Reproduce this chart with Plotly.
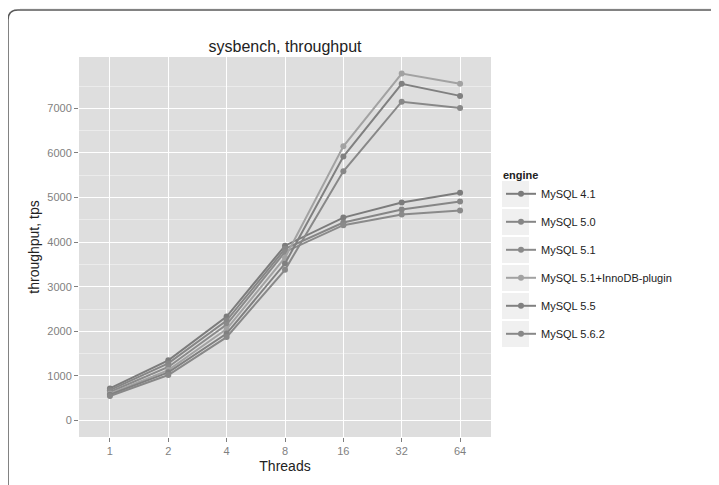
import plotly.graph_objects as go

threads = ["1", "2", "4", "8", "16", "32", "64"]
engines = ["MySQL 4.1", "MySQL 5.0", "MySQL 5.1", "MySQL 5.1+InnoDB-plugin", "MySQL 5.5", "MySQL 5.6.2"]
mysql_41 = [720, 1350, 2330, 3920, 4550, 4890, 5110]
mysql_50 = [680, 1280, 2240, 3850, 4440, 4730, 4910]
mysql_51 = [640, 1200, 2150, 3780, 4380, 4620, 4710]
mysql_51_plugin = [600, 1130, 2050, 3650, 6150, 7780, 7550]
mysql_55 = [580, 1080, 1950, 3520, 5920, 7550, 7280]
mysql_562 = [550, 1020, 1870, 3380, 5590, 7150, 7010]
series = [mysql_41, mysql_50, mysql_51, mysql_51_plugin, mysql_55, mysql_562]
colors = ["#7c7c7c", "#868686", "#8a8a8a", "#a2a2a2", "#808080", "#888888"]

fig = go.Figure()
for i, (name, vals) in enumerate(zip(engines, series)):
    fig.add_trace(go.Scatter(
        x=threads, y=vals, name=name, mode="lines+markers",
        legendgroup=name,
        line=dict(color=colors[i], width=2),
        marker=dict(color=colors[i], size=6, symbol="circle"),
    ))

OFF = 8  # page body margin
W, H = 719, 485
SL, ST, SR, SB = 79, 57, 491, 437  # plot area in screen pixels
pw, ph = SR - SL, SB - ST
L, T = SL - OFF, ST - OFF
R, B = W - L - pw, H - T - ph

def px(x):
    return (x - SL) / pw

def py(y):
    return (SB - y) / ph

shapes = []
# faint shadow line above frame
shapes.append(dict(type="line", xref="paper", yref="paper",
                   x0=px(20), x1=px(760), y0=py(8), y1=py(8),
                   line=dict(color="#e6e6e6", width=1)))
# outer rounded frame (top-left corner visible)
x0, y0 = px(8), py(10)
rx, ry = 10 / pw, 10 / ph
xr, yb = px(760), py(520)
shapes.append(dict(type="path", xref="paper", yref="paper",
                   path=f"M {x0},{yb} L {x0},{y0 - ry} Q {x0},{y0} {x0 + rx},{y0} L {xr},{y0}",
                   line=dict(color="#5a5a5a", width=1.5)))
# legend key backgrounds
for k in range(6):
    cy = 194 + 28 * k
    shapes.append(dict(type="rect", xref="paper", yref="paper",
                       x0=px(502), x1=px(529), y0=py(cy + 13), y1=py(cy - 13),
                       fillcolor="#f0f0f0", line=dict(width=0), layer="below"))

fig.update_layout(
    width=W, height=H,
    margin=dict(l=L, r=R, t=T, b=B, autoexpand=False),
    paper_bgcolor="white",
    plot_bgcolor="#dedede",
    font=dict(family="Liberation Sans, Arial, sans-serif", color="#222222"),
    title=dict(text="sysbench, throughput", x=(L + pw / 2) / W, xanchor="center",
               y=1 - (46 - OFF) / H, yanchor="middle", font=dict(size=16, color="#222222")),
    showlegend=True,
    legend=dict(x=px(501), y=py(165), xanchor="left", yanchor="top",
                title=dict(text="<b>engine</b>", font=dict(size=11, color="#222222")),
                font=dict(size=11, color="#222222"),
                tracegroupgap=9, bgcolor="rgba(0,0,0,0)", itemwidth=30),
    shapes=shapes,
)
fig.update_xaxes(
    type="category", range=[-0.53, 6.53], automargin=False,
    showgrid=True, gridcolor="white", gridwidth=1.3,
    ticks="outside", ticklen=4, tickcolor="#7f7f7f",
    tickfont=dict(size=11, color="#7f7f7f"),
    title=dict(text="Threads", font=dict(size=14, color="#222222"), standoff=4),
    zeroline=False, showline=False,
)
fig.update_yaxes(
    range=[-370, 8152], tickvals=[0, 1000, 2000, 3000, 4000, 5000, 6000, 7000],
    automargin=False,
    showgrid=True, gridcolor="white", gridwidth=1.3,
    minor=dict(tickvals=[-500, 500, 1500, 2500, 3500, 4500, 5500, 6500, 7500],
               showgrid=True, gridcolor="#ebebeb", gridwidth=0.6),
    ticks="outside", ticklen=4, tickcolor="#7f7f7f",
    tickfont=dict(size=11, color="#7f7f7f"),
    title=dict(text="throughput, tps", font=dict(size=14, color="#222222"), standoff=4),
    zeroline=False, showline=False,
)

fig.write_html("out.html")
